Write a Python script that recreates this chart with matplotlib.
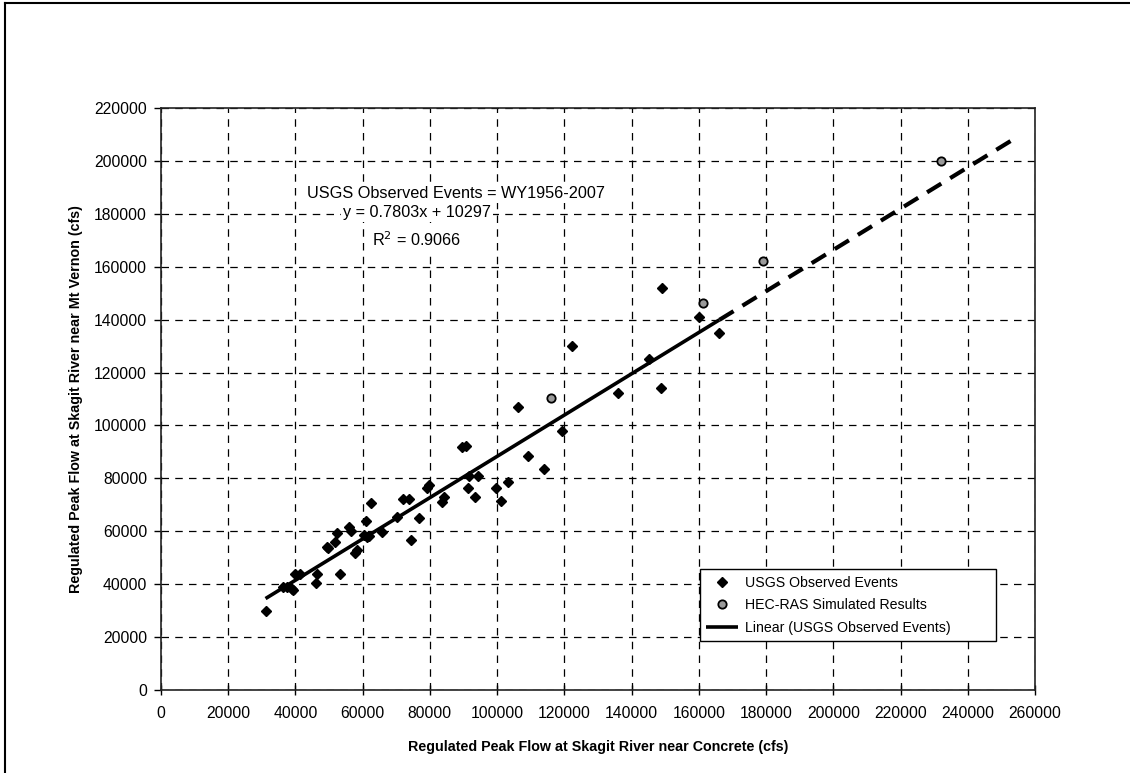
import matplotlib
matplotlib.use("Agg")
import matplotlib.pyplot as plt
from matplotlib.lines import Line2D
import numpy as np

plt.rcParams['font.family'] = ['Liberation Sans', 'DejaVu Sans']

usgs_x = [31100, 36400, 37400, 38900, 39400, 39900, 41400, 46300, 46100, 53200,
          49500, 49800, 51800, 52500, 55900, 56500, 57700, 58400, 60400, 61200,
          61800, 61000, 62400, 65600, 70100, 72100, 73900, 74300, 76800, 79000,
          79800, 83500, 84200, 89400, 90700, 91700, 94200, 91400, 93400, 99600,
          103100, 101100, 106100, 109100, 114000, 119400, 122200, 136000, 145200, 148700,
          148900, 160000, 166100]
usgs_y = [29700, 39000, 39000, 38000, 37800, 43700, 43700, 43700, 40300, 43700,
          54200, 53800, 56100, 59500, 61500, 60200, 51700, 52900, 58600, 57900,
          58300, 64000, 70600, 59800, 65500, 72100, 72100, 56700, 64900, 76200,
          77500, 71000, 72800, 91700, 92300, 80900, 80900, 76500, 72800, 76200,
          78500, 71600, 107100, 88500, 83400, 97900, 130200, 112100, 125000, 114300,
          152100, 141100, 135100]

hec_x = [116000, 161100, 179000, 232000]
hec_y = [110500, 146200, 162200, 200000]

slope = 0.7803
intercept = 10297
fit_solid_range = [31100, 166100]
fit_dashed_range = [166100, 255000]

x_ticks = list(range(0, 260001, 20000))
y_ticks = list(range(0, 220001, 20000))

fig = plt.figure(figsize=(11.30, 7.73), dpi=100)
ax = fig.add_axes([161/1130, 1-690/773, (1035-161)/1130, (690-108)/773])

ax.set_xlim(0, 260000)
ax.set_ylim(0, 220000)
ax.set_xticks(x_ticks)
ax.set_yticks(y_ticks)
ax.set_xticklabels([str(v) for v in x_ticks], fontsize=11.3)
ax.set_yticklabels([str(v) for v in y_ticks], fontsize=11.3)
ax.tick_params(axis='x', direction='inout', length=7, width=1, pad=8)
ax.tick_params(axis='y', direction='out', length=5, width=1, pad=5)
ax.grid(True, color='black', linestyle=(0, (6, 5)), linewidth=0.9)
ax.set_axisbelow(True)
for s in ax.spines.values():
    s.set_color('#222222')
    s.set_linewidth(1.2)

xs = np.array(fit_solid_range, dtype=float)
ax.plot(xs, slope*xs + intercept, color='black', linewidth=2.6, solid_capstyle='butt', zorder=3,
        label='Linear (USGS Observed Events)')
xd = np.array(fit_dashed_range, dtype=float)
ax.plot(xd, slope*xd + intercept, color='black', linewidth=3, linestyle=(0, (4, 2.5)), zorder=3)

ax.plot(usgs_x, usgs_y, linestyle='none', marker='D', markersize=5.5, color='black',
        zorder=4, label='USGS Observed Events')
ax.plot(hec_x, hec_y, linestyle='none', marker='o', markersize=6, markerfacecolor='#9a9a9a',
        markeredgecolor='black', markeredgewidth=1.3, zorder=4, label='HEC-RAS Simulated Results')


def px2data(px, py):
    return (px-161)/874*260000, (690-py)/582*220000

box = dict(facecolor='white', edgecolor='none', pad=1.5)
x1, y1 = px2data(456, 193)
ax.text(x1, y1, 'USGS Observed Events = WY1956-2007', fontsize=11.7, ha='center', va='center',
        bbox=box, zorder=2.5)
x2, y2 = px2data(417, 212)
ax.text(x2, y2, 'y = 0.7803x + 10297', fontsize=11.7, ha='center', va='center',
        bbox=box, zorder=2.5)
x3, y3 = px2data(417, 240)
ax.text(x3, y3, 'R$^2$ = 0.9066', fontsize=11.7, ha='center', va='center',
        bbox=box, zorder=2.5)

handles, labels = ax.get_legend_handles_labels()
order = [1, 2, 0]
leg = ax.legend([handles[i] for i in order], [labels[i] for i in order],
                loc='lower left',
                bbox_to_anchor=((700-161)/874, (690-641)/582, 296/874, 71/582),
                mode='expand', borderaxespad=0,
                fontsize=10.2, frameon=True, fancybox=False, edgecolor='black',
                handlelength=2.2, handletextpad=0.5, borderpad=0.45, labelspacing=0.6,
                framealpha=1)
leg.get_frame().set_linewidth(1.0)

ax.set_xlabel('Regulated Peak Flow at Skagit River near Concrete (cfs)', fontsize=10.3,
              fontweight='bold', labelpad=14)
ax.set_ylabel('Regulated Peak Flow at Skagit River near Mt Vernon (cfs)', fontsize=10.3,
              fontweight='bold', labelpad=8)

fig.add_artist(Line2D([5/1130, 5/1130], [0, 1-3/773], transform=fig.transFigure,
                      color='black', linewidth=1.5))
fig.add_artist(Line2D([5/1130, 1], [1-3/773, 1-3/773], transform=fig.transFigure,
                      color='black', linewidth=1.5))

fig.savefig('out.png', dpi=100, facecolor='white')
